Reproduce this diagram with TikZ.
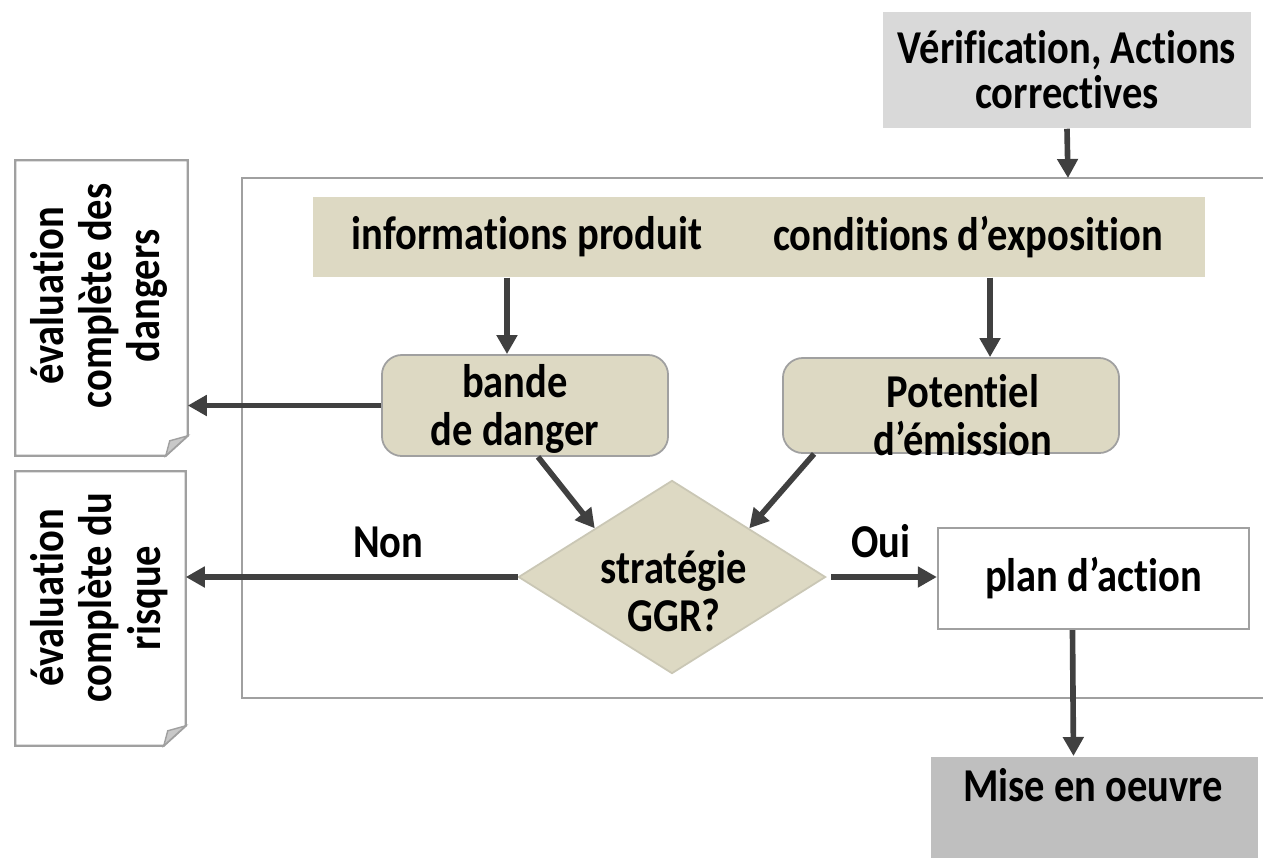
\documentclass[tikz,border=0pt]{standalone}
\usepackage{fontspec}
\setmainfont{Carlito}[FakeStretch=0.86,Ligatures=NoCommon]
\usetikzlibrary{shapes.geometric,arrows.meta,calc}
\definecolor{tanfill}{HTML}{DDD9C3}
\definecolor{lightgray}{HTML}{D9D9D9}
\definecolor{misegray}{HTML}{BFBFBF}
\definecolor{bordergray}{HTML}{A0A0A0}
\definecolor{arrgray}{HTML}{404040}
\definecolor{foldgray}{HTML}{C8C8C8}
\begin{document}
\begin{tikzpicture}[x=0.01cm,y=-0.01cm,
  every node/.style={font=\fontsize{13.4pt}{13.7pt}\selectfont\bfseries, text=black, inner sep=0pt, align=center},
  arr/.style={draw=arrgray, line width=1.6pt, -{Triangle[length=0.19cm,width=0.2cm]}},
  tanround/.style={fill=tanfill, draw=bordergray, line width=0.5pt, rounded corners=0.2cm},
  framel/.style={draw=bordergray, line width=0.6pt},
  docline/.style={draw=bordergray, line width=0.6pt, fill=white},
  lbl/.style={anchor=base, yshift=0.19cm}
]
\useasboundingbox (0,0) rectangle (1263,857);
\fill[white] (0,0) rectangle (1263,857);

% outer frame
\draw[framel] (1280,178) -- (242,178) -- (242,698) -- (1280,698);
\coordinate (ftop) at (1068,178);

% top box
\node[fill=lightgray, minimum width=3.68cm, minimum height=1.16cm,
      font=\fontsize{13.4pt}{12.8pt}\selectfont\bfseries] (verif) at (1067,70) {Vérification, Actions\\correctives};
\draw[arr] (verif.south) -- (ftop);

% band
\node[fill=tanfill, minimum width=8.92cm, minimum height=0.80cm] (band) at (759,237) {};
\node (info) at (527,237) {informations produit};
\node (cond) at (968,237) {conditions d’exposition};

% bande de danger
\node[tanround, minimum width=2.86cm, minimum height=1.01cm] (bande) at (525,405.5) {};
\node (bandet) at (515,409) {bande\\de danger};

% potentiel
\node[tanround, minimum width=3.36cm, minimum height=0.95cm] (pot) at (951,405.5) {};
\node (pott) at (963,415) {Potentiel\\d’émission};

\draw[arr] ([xshift=-0.18cm]bande.north |- band.south) -- ([xshift=-0.18cm]bande.north);
\draw[arr] ([xshift=0.39cm]pot.north |- band.south) -- ([xshift=0.39cm]pot.north);

% diamond
\node[diamond, fill=tanfill, draw=tanfill!80!gray, line width=0.5pt, aspect=1.59,
      minimum width=3.07cm, minimum height=1.93cm] (dia) at (672,577) {};
\node (diat) at (674,591) {stratégie\\GGR?};

\draw[arr] ([xshift=0.13cm]bande.south) -- (dia.north west);
\draw[arr] ([xshift=0.32cm]pot.south west) -- (dia.north east);

% plan d'action
\node[draw=bordergray, line width=0.6pt, fill=white, minimum width=3.11cm, minimum height=1.01cm] (plan) at (1093.5,578.5) {plan d’action};

% mise en oeuvre
\node[fill=misegray, minimum width=3.27cm, minimum height=1.01cm, anchor=north] (mise) at (1094.5,756) {};
\node (miset) at (1093,785) {Mise en oeuvre};

% documents
\node[minimum width=1.71cm, minimum height=2.94cm] (doc1) at (101.5,308) {};
\draw[docline] (doc1.north west) -- (doc1.north east) -- ($(doc1.south east)+(0,-20)$)
  -- ($(doc1.south east)+(-22,0)$) -- (doc1.south west) -- cycle;
\filldraw[fill=foldgray, draw=bordergray, line width=0.4pt] ($(doc1.south east)+(0,-20)$)
  -- ($(doc1.south east)+(-22,0)$) -- ($(doc1.south east)+(-18,-15)$) -- cycle;
\node[rotate=90] (doc1t) at (99,296) {évaluation\\complète des\\dangers};

\node[minimum width=1.69cm, minimum height=2.73cm] (doc2) at (100.5,608.5) {};
\draw[docline] (doc2.north west) -- (doc2.north east) -- ($(doc2.south east)+(0,-20)$)
  -- ($(doc2.south east)+(-22,0)$) -- (doc2.south west) -- cycle;
\filldraw[fill=foldgray, draw=bordergray, line width=0.4pt] ($(doc2.south east)+(0,-20)$)
  -- ($(doc2.south east)+(-22,0)$) -- ($(doc2.south east)+(-18,-15)$) -- cycle;
\node[rotate=90] (doc2t) at (99,598) {évaluation\\complète du\\risque};

% connectors
\draw[arr] (bande.west) -- (bande.west -| doc1.east);
\draw[arr] (dia.west) -- node[lbl, pos=0.39] (non) {Non} (dia.west -| doc2.east);
\draw[arr] ([xshift=0.05cm]dia.east) -- node[lbl, pos=0.47] (oui) {Oui} (dia.east -| plan.west);
\draw[arr] ([xshift=-0.21cm]plan.south) -- ([xshift=-0.21cm]mise.north);
\end{tikzpicture}
\end{document}
